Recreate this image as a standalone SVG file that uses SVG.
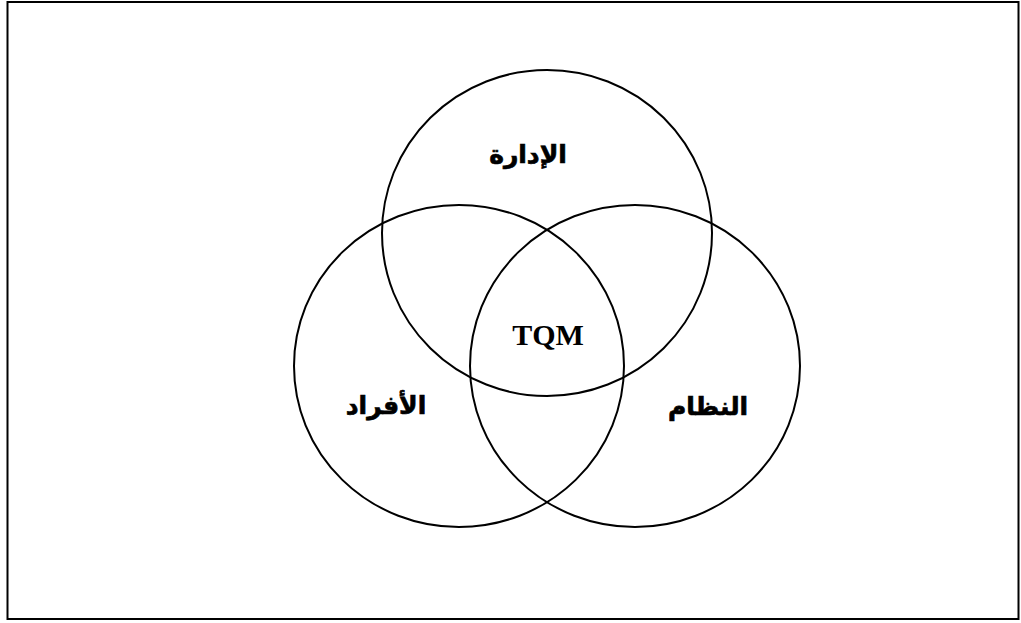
<svg xmlns="http://www.w3.org/2000/svg" width="1021" height="623" viewBox="0 0 1021 623">
<style>
.c{fill:none;stroke:#000;stroke-width:2}
.ar{font-family:"DejaVu Sans","Noto Sans",sans-serif;font-weight:bold;font-size:25px;fill:#000;stroke:#000;stroke-width:0.7;text-anchor:middle}
.en{font-family:"Liberation Serif","Times New Roman",serif;font-weight:bold;font-size:30px;fill:#000;text-anchor:middle}
</style>
<rect x="7.5" y="2" width="1011" height="617" fill="#fff" stroke="#000" stroke-width="2"/>
<g id="connectors"></g>
<g id="node-admin">
<ellipse class="c" cx="547" cy="233" rx="165" ry="163"/>
<text class="ar" x="528" y="163" direction="rtl">الإدارة</text>
</g>
<g id="node-people">
<ellipse class="c" cx="459" cy="366" rx="165" ry="161"/>
<text class="ar" x="386" y="414" direction="rtl">الأفراد</text>
</g>
<g id="node-system">
<ellipse class="c" cx="635" cy="366" rx="165" ry="161"/>
<text class="ar" x="708" y="415" direction="rtl">النظام</text>
</g>
<g id="node-tqm">
<text class="en" x="548" y="345">TQM</text>
</g>
</svg>
